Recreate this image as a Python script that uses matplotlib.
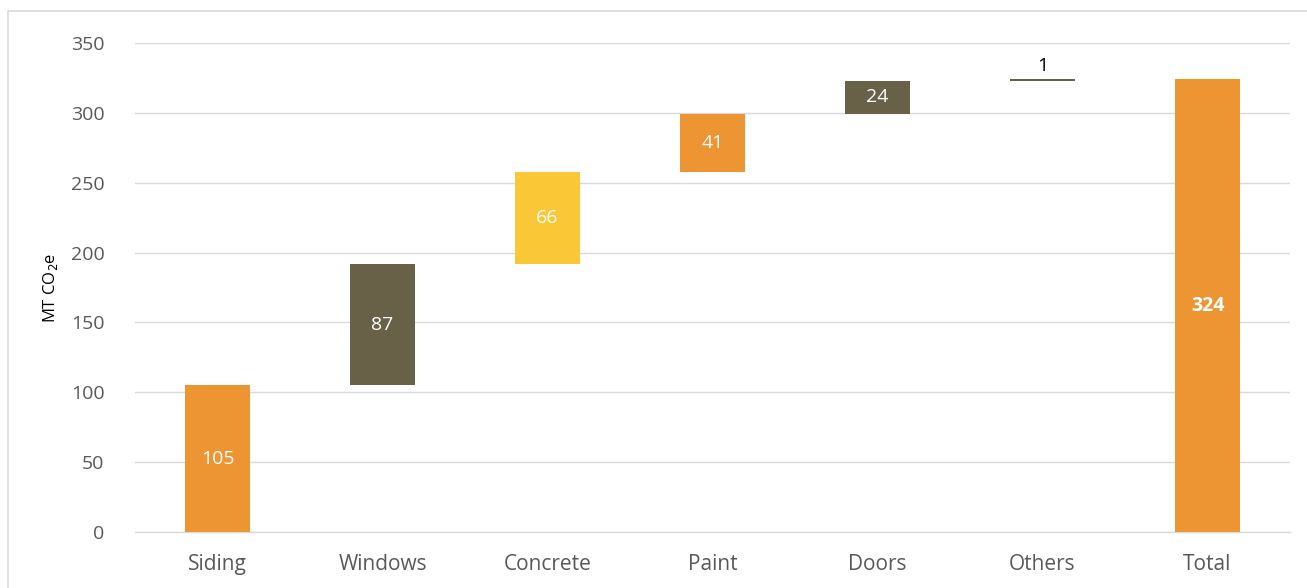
import matplotlib
matplotlib.use("Agg")
import matplotlib.pyplot as plt
from matplotlib.patches import Rectangle
import numpy as np

categories = ["Siding", "Windows", "Concrete", "Paint", "Doors", "Others", "Total"]
increments = [105, 87, 66, 41, 24, 1]
total_value = 324
colors = ["#ED9433", "#686047", "#FAC736", "#ED9433", "#686047", "#686047", "#ED9433"]
y_ticks = [0, 50, 100, 150, 200, 250, 300, 350]

plt.rcParams['font.family'] = ['Open Sans', 'DejaVu Sans']

fig = plt.figure(figsize=(13.07, 5.88), dpi=100)
ax = fig.add_axes([0.1033, 0.0952, 0.8837, 0.8317])

inc = np.array(increments, dtype=float)
bottoms = np.concatenate([[0], np.cumsum(inc)[:-1]])
heights = list(inc) + [total_value]
bottoms = list(bottoms) + [0]
x = np.arange(len(categories))

bars = ax.bar(x, heights, bottom=bottoms, width=0.39, color=colors, zorder=3)

for i, (b, h) in enumerate(zip(bottoms, heights)):
    if categories[i] == "Others":
        ax.text(x[i], b + h + 3, f"{int(h)}", ha="center", va="bottom",
                fontsize=14, color="black", zorder=4)
    elif categories[i] == "Total":
        ax.text(x[i], b + h / 2, f"{int(h)}", ha="center", va="center",
                fontsize=14, color="white", fontweight="bold", zorder=4)
    else:
        ax.text(x[i], b + h / 2, f"{int(h)}", ha="center", va="center",
                fontsize=14, color="white", zorder=4)

ax.set_xlim(-0.5, len(categories) - 0.5)
ax.set_ylim(0, 350)
ax.set_yticks(y_ticks)
ax.set_xticks(x)
ax.set_xticklabels(categories, fontsize=15, color="#595959")
ax.tick_params(axis="y", labelsize=14, colors="#595959", length=0, pad=22)
ax.tick_params(axis="x", length=0, pad=16)
ax.yaxis.grid(True, color="#D9D9D9", linewidth=1, zorder=0)
ax.set_axisbelow(True)
for s in ["top", "right", "left"]:
    ax.spines[s].set_visible(False)
ax.spines["bottom"].set_color("#D9D9D9")
ax.spines["bottom"].set_linewidth(1)

ax.set_ylabel("MT CO$_2$e", fontsize=12, color="black", labelpad=8)

fig.patches.append(Rectangle((8 / 1307, -0.01), 1.1, 1 - 11 / 588 + 0.01,
                             transform=fig.transFigure, fill=False,
                             edgecolor="#D9D9D9", linewidth=1.2))

fig.savefig("out.png", dpi=100)
